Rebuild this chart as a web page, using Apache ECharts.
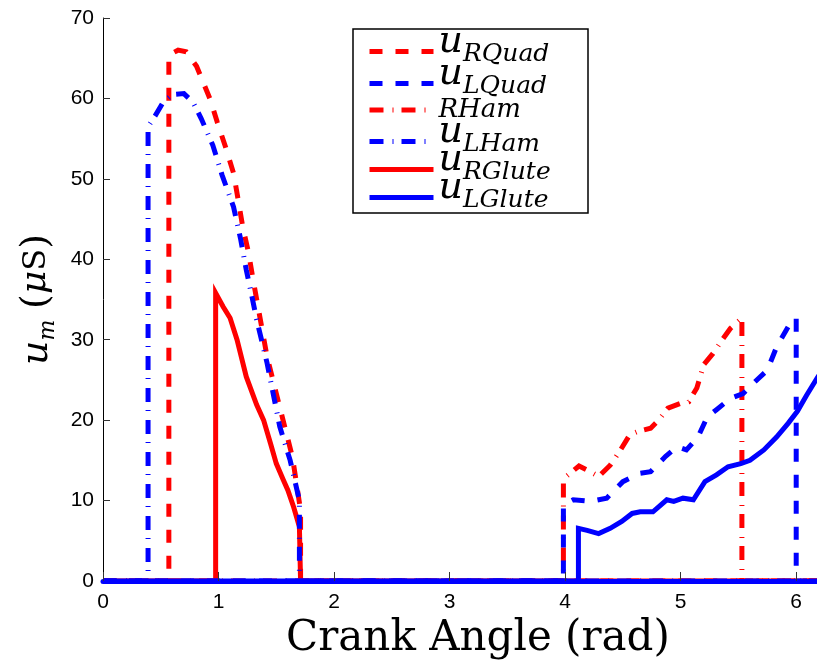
<!DOCTYPE html>
<html>
<head>
<meta charset="utf-8">
<script src="https://cdn.jsdelivr.net/npm/echarts@6/dist/echarts.min.js"></script>
<style>
html,body{margin:0;padding:0;background:#fff;}
#chart{width:817px;height:669px;}
</style>
</head>
<body>
<div id="chart"></div>
<script>
// ---- Data ----
const xTicks = [0, 1, 2, 3, 4, 5, 6];
const yTicks = [0, 10, 20, 30, 40, 50, 60, 70];

const seriesNames = ['RQuad', 'LQuad', 'RHam', 'LHam', 'RGlute', 'LGlute'];

const rQuadX = [0, 0.57, 0.57, 0.65, 0.72, 0.81, 0.93, 0.99, 1.06, 1.13, 1.17, 1.21, 1.26, 1.30, 1.42, 1.53, 1.64, 1.71, 1.71, 6.283];
const rQuadY = [0, 0, 65.4, 66.0, 65.8, 64.0, 59.8, 57.0, 54.0, 50.7, 47.4, 44.0, 40.8, 37.4, 27.9, 21.6, 15.4, 8.8, 0, 0];

const lQuadX = [0, 3.985, 3.985, 4.07, 4.22, 4.36, 4.50, 4.65, 4.74, 4.87, 4.97, 5.05, 5.15, 5.23, 5.31, 5.43, 5.54, 5.63, 5.75, 5.83, 5.93, 6.0, 6.0, 6.283];
const lQuadY = [0, 0, 9.45, 10.1, 9.9, 10.3, 12.35, 13.4, 13.6, 15.5, 16.7, 16.3, 17.9, 20.4, 21.3, 22.7, 23.3, 24.6, 26.2, 29.1, 31.6, 32.7, 0, 0];

const rHamX = [0, 3.985, 3.985, 4.01, 4.12, 4.19, 4.29, 4.39, 4.48, 4.56, 4.63, 4.74, 4.81, 4.89, 5.00, 5.07, 5.14, 5.20, 5.28, 5.36, 5.43, 5.53, 5.53, 6.283];
const rHamY = [0, 0, 12.35, 13.0, 14.3, 13.8, 13.0, 14.4, 16.3, 18.2, 18.6, 19.0, 20.0, 21.5, 22.1, 22.3, 24.0, 26.9, 28.3, 30.0, 31.4, 32.7, 0, 0];

const lHamX = [0, 0.39, 0.39, 0.45, 0.52, 0.60, 0.70, 0.78, 0.85, 0.95, 1.03, 1.13, 1.19, 1.24, 1.29, 1.33, 1.42, 1.53, 1.62, 1.70, 1.70, 6.283];
const lHamY = [0, 0, 56.5, 57.8, 59.5, 60.5, 60.6, 59.5, 57.5, 54.2, 50.5, 46.5, 42.6, 38.7, 35.3, 32.5, 27.1, 19.2, 15.0, 10.0, 0, 0];

const rGluteX = [0, 0.975, 0.975, 1.04, 1.10, 1.16, 1.24, 1.33, 1.39, 1.45, 1.50, 1.56, 1.60, 1.65, 1.70, 1.71, 6.283];
const rGluteY = [0, 0, 35.8, 34.1, 32.7, 30.0, 25.4, 21.9, 20.0, 17.1, 14.6, 12.6, 11.3, 9.2, 6.75, 0, 0];

const lGluteX = [0, 4.115, 4.115, 4.19, 4.29, 4.39, 4.49, 4.58, 4.65, 4.76, 4.88, 4.94, 5.02, 5.11, 5.21, 5.31, 5.41, 5.52, 5.60, 5.72, 5.83, 5.93, 6.01, 6.09, 6.18, 6.283];
const lGluteY = [0, 0, 6.55, 6.3, 5.9, 6.55, 7.4, 8.4, 8.6, 8.6, 10.1, 9.9, 10.3, 10.1, 12.35, 13.2, 14.2, 14.6, 15.0, 16.3, 17.9, 19.6, 21.1, 23.1, 25.2, 27.5];

// ---- Build ----
function pairs(xs, ys) { return xs.map((x, i) => [x, ys[i]]); }
const RED = '#ff0000', BLUE = '#0000ff';
const DASH = [13, 13];
const DASHDOT = [14, 9, 1, 8];

function mk(name, xs, ys, color, dash) {
  return {
    name: name, type: 'line', data: pairs(xs, ys), showSymbol: false, symbol: 'none',
    lineStyle: { color: color, width: 5, type: dash || 'solid', cap: 'butt', join: 'miter' },
    itemStyle: { color: color }, animation: false, z: 2
  };
}

const serif = "'DejaVu Serif', 'Liberation Serif', serif";
const sans = "'Liberation Sans', Arial, sans-serif";

const legendLabels = {
  RQuad: '{u|u}{s|RQuad}',
  LQuad: '{u|u}{s|LQuad}',
  RHam: '{r|RHam}',
  LHam: '{u|u}{s|LHam}',
  RGlute: '{u|u}{s|RGlute}',
  LGlute: '{u|u}{s|LGlute}'
};
// legend layout: frame and the y centre of each sample line
const legendBox = { x: 353, y: 29, w: 235, h: 184 };
const legendRowY = [49, 81, 111, 139, 167, 195];

const legendRich = {
  u: { fontFamily: serif, fontStyle: 'italic', fontSize: 38, verticalAlign: 'bottom', padding: [0, 0, 6, 0] },
  s: { fontFamily: serif, fontStyle: 'italic', fontSize: 25, verticalAlign: 'bottom' },
  r: { fontFamily: serif, fontStyle: 'italic', fontSize: 26, verticalAlign: 'bottom', padding: [14, 0, 0, 0] }
};

const legends = seriesNames.map((n, i) => ({
  data: [n], orient: 'vertical', selectedMode: false,
  left: legendBox.x + 14, top: legendRowY[i] - (n === 'RHam' ? 13.5 : 26),
  padding: 0, itemGap: 0, itemWidth: 64, itemHeight: 14, z: 5,
  backgroundColor: 'transparent', borderWidth: 0,
  lineStyle: { width: 5 },
  itemStyle: { color: 'rgba(0,0,0,0)', borderColor: 'rgba(0,0,0,0)', borderWidth: 0, opacity: 0 },
  formatter: name => legendLabels[name],
  textStyle: { color: '#000', padding: [0, 0, 13, 0], rich: legendRich }
}));

const chart = echarts.init(document.getElementById('chart'), null, { renderer: 'canvas' });
chart.setOption({
  backgroundColor: '#ffffff',
  animation: false,
  grid: { left: 103, right: 0, top: 18, bottom: 88, containLabel: false },
  graphic: [{
    type: 'rect', z: 4, silent: true,
    shape: { x: legendBox.x, y: legendBox.y, width: legendBox.w, height: legendBox.h },
    style: { fill: '#fff', stroke: '#000', lineWidth: 1.5 }
  }],
  xAxis: {
    type: 'value', min: 0, max: 6.18, interval: 1, z: 3,
    name: 'Crank Angle (rad)', nameLocation: 'middle', nameGap: 33,
    nameTextStyle: { fontFamily: serif, fontSize: 42, color: '#000', padding: [0, 0, 0, 36] },
    axisLine: { show: true, onZero: false, lineStyle: { color: BLUE, width: 5 } },
    axisTick: { show: true, inside: true, length: 9, lineStyle: { color: '#333' } },
    axisLabel: { fontFamily: sans, fontSize: 21, color: '#000', margin: 11, showMaxLabel: false,
      formatter: v => (xTicks.indexOf(v) >= 0 ? String(v) : '') },
    splitLine: { show: false }
  },
  yAxis: {
    type: 'value', min: 0, max: 70, interval: 10,
    name: '{u|u}{m|m}{sp| }{p|(}{mu|μ}{S|S}{p|)}', nameLocation: 'middle', nameGap: 48, nameRotate: 90,
    nameTextStyle: {
      color: '#000',
      rich: {
        u: { fontFamily: serif, fontStyle: 'italic', fontSize: 38, lineHeight: 30, verticalAlign: 'top' },
        m: { fontFamily: serif, fontStyle: 'italic', fontSize: 22, lineHeight: 14, padding: [20, 0, 0, 0], verticalAlign: 'top' },
        sp: { fontFamily: serif, fontSize: 34, lineHeight: 30, verticalAlign: 'top' },
        p: { fontFamily: serif, fontSize: 38, lineHeight: 30, verticalAlign: 'top' },
        mu: { fontFamily: serif, fontStyle: 'italic', fontSize: 36, lineHeight: 30, verticalAlign: 'top' },
        S: { fontFamily: serif, fontSize: 32, lineHeight: 30, verticalAlign: 'top', padding: [3, 0, 0, 0] }
      }
    },
    axisLine: { show: true, lineStyle: { color: '#000', width: 1 } },
    axisTick: { show: true, inside: true, length: 7, lineStyle: { color: '#333' } },
    axisLabel: { fontFamily: sans, fontSize: 21, color: '#000', margin: 9,
      formatter: v => (yTicks.indexOf(v) >= 0 ? String(v) : '') },
    splitLine: { show: false }
  },
  legend: legends,
  series: [
    mk('RQuad', rQuadX, rQuadY, RED, DASH),
    mk('RHam', rHamX, rHamY, RED, DASHDOT),
    mk('RGlute', rGluteX, rGluteY, RED, null),
    mk('LQuad', lQuadX, lQuadY, BLUE, DASH),
    mk('LHam', lHamX, lHamY, BLUE, DASHDOT),
    mk('LGlute', lGluteX, lGluteY, BLUE, null)
  ]
});
</script>
</body>
</html>
